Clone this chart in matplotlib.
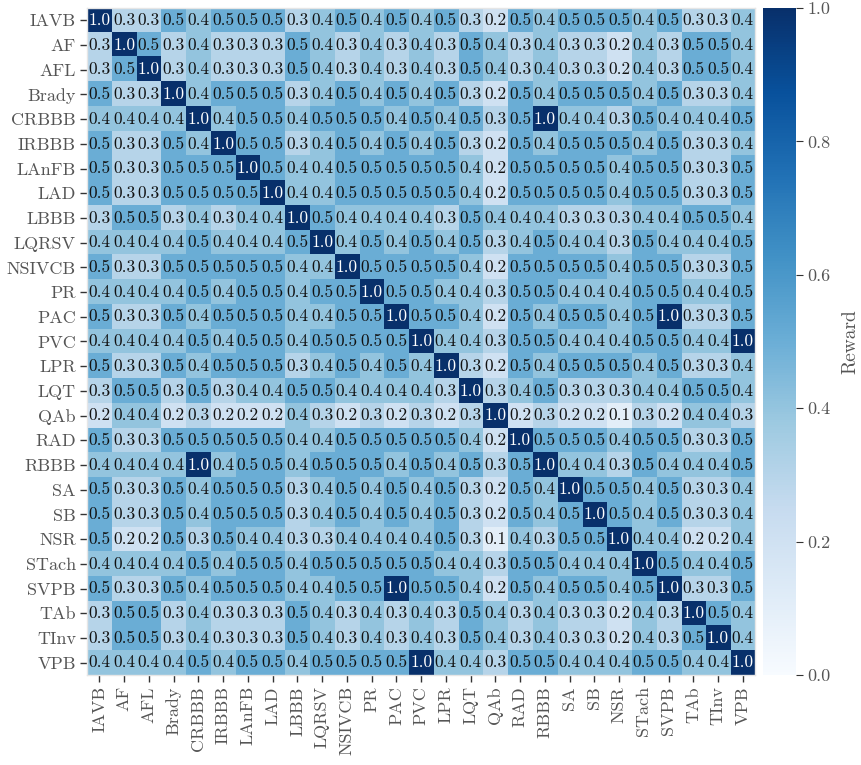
import numpy as np
import matplotlib
matplotlib.use("Agg")
import matplotlib.pyplot as plt

plt.rcParams['font.family'] = ['cmr10', 'DejaVu Serif']
plt.rcParams['mathtext.fontset'] = 'cm'
plt.rcParams['axes.formatter.use_mathtext'] = True

labels = ["IAVB", "AF", "AFL", "Brady", "CRBBB", "IRBBB", "LAnFB", "LAD", "LBBB",
          "LQRSV", "NSIVCB", "PR", "PAC", "PVC", "LPR", "LQT", "QAb", "RAD", "RBBB",
          "SA", "SB", "NSR", "STach", "SVPB", "TAb", "TInv", "VPB"]

# one row per label
reward = [
    [1.0, 0.3, 0.3, 0.5, 0.4, 0.5, 0.5, 0.5, 0.3, 0.4, 0.5, 0.4, 0.5, 0.4, 0.5, 0.3, 0.2, 0.5, 0.4, 0.5, 0.5, 0.5, 0.4, 0.5, 0.3, 0.3, 0.4],
    [0.3, 1.0, 0.5, 0.3, 0.4, 0.3, 0.3, 0.3, 0.5, 0.4, 0.3, 0.4, 0.3, 0.4, 0.3, 0.5, 0.4, 0.3, 0.4, 0.3, 0.3, 0.2, 0.4, 0.3, 0.5, 0.5, 0.4],
    [0.3, 0.5, 1.0, 0.3, 0.4, 0.3, 0.3, 0.3, 0.5, 0.4, 0.3, 0.4, 0.3, 0.4, 0.3, 0.5, 0.4, 0.3, 0.4, 0.3, 0.3, 0.2, 0.4, 0.3, 0.5, 0.5, 0.4],
    [0.5, 0.3, 0.3, 1.0, 0.4, 0.5, 0.5, 0.5, 0.3, 0.4, 0.5, 0.4, 0.5, 0.4, 0.5, 0.3, 0.2, 0.5, 0.4, 0.5, 0.5, 0.5, 0.4, 0.5, 0.3, 0.3, 0.4],
    [0.4, 0.4, 0.4, 0.4, 1.0, 0.4, 0.5, 0.5, 0.4, 0.5, 0.5, 0.5, 0.4, 0.5, 0.4, 0.5, 0.3, 0.5, 1.0, 0.4, 0.4, 0.3, 0.5, 0.4, 0.4, 0.4, 0.5],
    [0.5, 0.3, 0.3, 0.5, 0.4, 1.0, 0.5, 0.5, 0.3, 0.4, 0.5, 0.4, 0.5, 0.4, 0.5, 0.3, 0.2, 0.5, 0.4, 0.5, 0.5, 0.5, 0.4, 0.5, 0.3, 0.3, 0.4],
    [0.5, 0.3, 0.3, 0.5, 0.5, 0.5, 1.0, 0.5, 0.4, 0.4, 0.5, 0.5, 0.5, 0.5, 0.5, 0.4, 0.2, 0.5, 0.5, 0.5, 0.5, 0.4, 0.5, 0.5, 0.3, 0.3, 0.5],
    [0.5, 0.3, 0.3, 0.5, 0.5, 0.5, 0.5, 1.0, 0.4, 0.4, 0.5, 0.5, 0.5, 0.5, 0.5, 0.4, 0.2, 0.5, 0.5, 0.5, 0.5, 0.4, 0.5, 0.5, 0.3, 0.3, 0.5],
    [0.3, 0.5, 0.5, 0.3, 0.4, 0.3, 0.4, 0.4, 1.0, 0.5, 0.4, 0.4, 0.4, 0.4, 0.3, 0.5, 0.4, 0.4, 0.4, 0.3, 0.3, 0.3, 0.4, 0.4, 0.5, 0.5, 0.4],
    [0.4, 0.4, 0.4, 0.4, 0.5, 0.4, 0.4, 0.4, 0.5, 1.0, 0.4, 0.5, 0.4, 0.5, 0.4, 0.5, 0.3, 0.4, 0.5, 0.4, 0.4, 0.3, 0.5, 0.4, 0.4, 0.4, 0.5],
    [0.5, 0.3, 0.3, 0.5, 0.5, 0.5, 0.5, 0.5, 0.4, 0.4, 1.0, 0.5, 0.5, 0.5, 0.5, 0.4, 0.2, 0.5, 0.5, 0.5, 0.5, 0.4, 0.5, 0.5, 0.3, 0.3, 0.5],
    [0.4, 0.4, 0.4, 0.4, 0.5, 0.4, 0.5, 0.5, 0.4, 0.5, 0.5, 1.0, 0.5, 0.5, 0.4, 0.4, 0.3, 0.5, 0.5, 0.4, 0.4, 0.4, 0.5, 0.5, 0.4, 0.4, 0.5],
    [0.5, 0.3, 0.3, 0.5, 0.4, 0.5, 0.5, 0.5, 0.4, 0.4, 0.5, 0.5, 1.0, 0.5, 0.5, 0.4, 0.2, 0.5, 0.4, 0.5, 0.5, 0.4, 0.5, 1.0, 0.3, 0.3, 0.5],
    [0.4, 0.4, 0.4, 0.4, 0.5, 0.4, 0.5, 0.5, 0.4, 0.5, 0.5, 0.5, 0.5, 1.0, 0.4, 0.4, 0.3, 0.5, 0.5, 0.4, 0.4, 0.4, 0.5, 0.5, 0.4, 0.4, 1.0],
    [0.5, 0.3, 0.3, 0.5, 0.4, 0.5, 0.5, 0.5, 0.3, 0.4, 0.5, 0.4, 0.5, 0.4, 1.0, 0.3, 0.2, 0.5, 0.4, 0.5, 0.5, 0.5, 0.4, 0.5, 0.3, 0.3, 0.4],
    [0.3, 0.5, 0.5, 0.3, 0.5, 0.3, 0.4, 0.4, 0.5, 0.5, 0.4, 0.4, 0.4, 0.4, 0.3, 1.0, 0.3, 0.4, 0.5, 0.3, 0.3, 0.3, 0.4, 0.4, 0.5, 0.5, 0.4],
    [0.2, 0.4, 0.4, 0.2, 0.3, 0.2, 0.2, 0.2, 0.4, 0.3, 0.2, 0.3, 0.2, 0.3, 0.2, 0.3, 1.0, 0.2, 0.3, 0.2, 0.2, 0.1, 0.3, 0.2, 0.4, 0.4, 0.3],
    [0.5, 0.3, 0.3, 0.5, 0.5, 0.5, 0.5, 0.5, 0.4, 0.4, 0.5, 0.5, 0.5, 0.5, 0.5, 0.4, 0.2, 1.0, 0.5, 0.5, 0.5, 0.4, 0.5, 0.5, 0.3, 0.3, 0.5],
    [0.4, 0.4, 0.4, 0.4, 1.0, 0.4, 0.5, 0.5, 0.4, 0.5, 0.5, 0.5, 0.4, 0.5, 0.4, 0.5, 0.3, 0.5, 1.0, 0.4, 0.4, 0.3, 0.5, 0.4, 0.4, 0.4, 0.5],
    [0.5, 0.3, 0.3, 0.5, 0.4, 0.5, 0.5, 0.5, 0.3, 0.4, 0.5, 0.4, 0.5, 0.4, 0.5, 0.3, 0.2, 0.5, 0.4, 1.0, 0.5, 0.5, 0.4, 0.5, 0.3, 0.3, 0.4],
    [0.5, 0.3, 0.3, 0.5, 0.4, 0.5, 0.5, 0.5, 0.3, 0.4, 0.5, 0.4, 0.5, 0.4, 0.5, 0.3, 0.2, 0.5, 0.4, 0.5, 1.0, 0.5, 0.4, 0.5, 0.3, 0.3, 0.4],
    [0.5, 0.2, 0.2, 0.5, 0.3, 0.5, 0.4, 0.4, 0.3, 0.3, 0.4, 0.4, 0.4, 0.4, 0.5, 0.3, 0.1, 0.4, 0.3, 0.5, 0.5, 1.0, 0.4, 0.4, 0.2, 0.2, 0.4],
    [0.4, 0.4, 0.4, 0.4, 0.5, 0.4, 0.5, 0.5, 0.4, 0.5, 0.5, 0.5, 0.5, 0.5, 0.4, 0.4, 0.3, 0.5, 0.5, 0.4, 0.4, 0.4, 1.0, 0.5, 0.4, 0.4, 0.5],
    [0.5, 0.3, 0.3, 0.5, 0.4, 0.5, 0.5, 0.5, 0.4, 0.4, 0.5, 0.5, 1.0, 0.5, 0.5, 0.4, 0.2, 0.5, 0.4, 0.5, 0.5, 0.4, 0.5, 1.0, 0.3, 0.3, 0.5],
    [0.3, 0.5, 0.5, 0.3, 0.4, 0.3, 0.3, 0.3, 0.5, 0.4, 0.3, 0.4, 0.3, 0.4, 0.3, 0.5, 0.4, 0.3, 0.4, 0.3, 0.3, 0.2, 0.4, 0.3, 1.0, 0.5, 0.4],
    [0.3, 0.5, 0.5, 0.3, 0.4, 0.3, 0.3, 0.3, 0.5, 0.4, 0.3, 0.4, 0.3, 0.4, 0.3, 0.5, 0.4, 0.3, 0.4, 0.3, 0.3, 0.2, 0.4, 0.3, 0.5, 1.0, 0.4],
    [0.4, 0.4, 0.4, 0.4, 0.5, 0.4, 0.5, 0.5, 0.4, 0.5, 0.5, 0.5, 0.5, 1.0, 0.4, 0.4, 0.3, 0.5, 0.5, 0.4, 0.4, 0.4, 0.5, 0.5, 0.4, 0.4, 1.0],
]

data = np.array(reward)
n = len(labels)
grey = "#555555"

fig = plt.figure(figsize=(8.62, 7.65), dpi=100)
ax = fig.add_axes([0.101, 0.1176, 0.775, 0.872])
cax = fig.add_axes([0.885, 0.1176, 0.038, 0.872])

im = ax.imshow(data, cmap="Blues", vmin=0, vmax=1, aspect="auto", interpolation="nearest")

for i in range(n):
    for j in range(n):
        v = data[i, j]
        ax.text(j, i, f"{v:.1f}", ha="center", va="center", fontsize=12.5,
                color="white" if v > 0.7 else "#111111")

ax.set_xticks(range(n))
ax.set_yticks(range(n))
ax.set_xticklabels(labels, rotation=90, fontsize=13, color=grey)
ax.set_yticklabels(labels, fontsize=13, color=grey)
ax.tick_params(length=5, width=1, color="#333333", pad=3)
for s in ax.spines.values():
    s.set_color("#e6e6e6")
    s.set_linewidth(1)

cb = fig.colorbar(im, cax=cax, ticks=[0.0, 0.2, 0.4, 0.6, 0.8, 1.0])
cb.outline.set_visible(False)
cb.ax.set_yticklabels(["0.0", "0.2", "0.4", "0.6", "0.8", "1.0"])
cb.ax.tick_params(labelsize=13, labelcolor=grey, length=5, color="#333333")
cb.set_label("Reward", fontsize=14, color=grey, labelpad=8)

fig.savefig("out.png", dpi=100)
